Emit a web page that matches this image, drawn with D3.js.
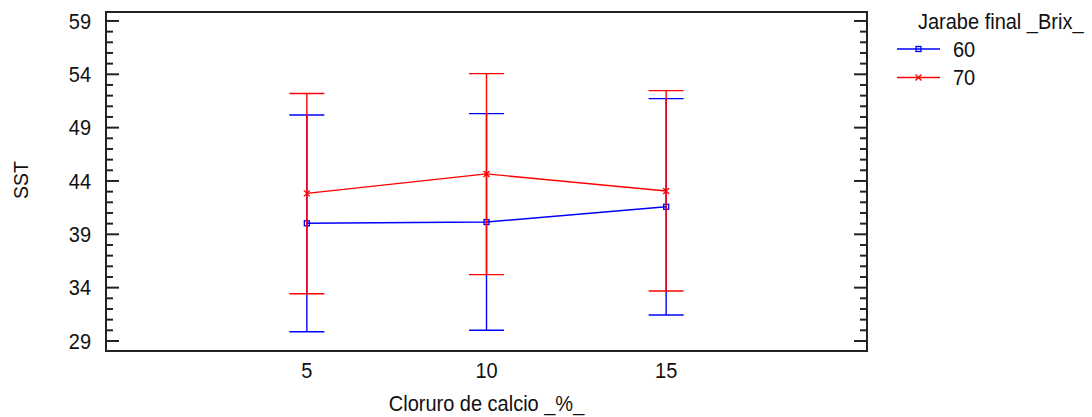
<!DOCTYPE html>
<html>
<head>
<meta charset="utf-8">
<script src="https://cdn.jsdelivr.net/npm/d3@7"></script>
<style>
  html, body { margin: 0; padding: 0; background: #fff; }
  svg { display: block; font-family: "Liberation Sans", Arial, sans-serif; }
</style>
</head>
<body>
<svg id="chart" width="1092" height="417"></svg>
<script>
// Calcium chloride levels (x) and series (final syrup Brix)
const cloruro = [5, 10, 15];
const seriesNames = ["60", "70"];
const seriesColors = ["#0000ff", "#ff0000"];

// SST means with interval limits for each series
const media60 = [40.03, 40.15, 41.58];
const inferior60 = [29.87, 30.00, 31.44];
const superior60 = [50.19, 50.31, 51.72];

const media70 = [42.84, 44.66, 43.06];
const inferior70 = [33.43, 35.22, 33.69];
const superior70 = [52.20, 54.06, 52.47];

const yTicks = [29, 34, 39, 44, 49, 54, 59];
const xTicks = [5, 10, 15];

(function () {
  const series = [
    { name: seriesNames[0], color: seriesColors[0], marker: "square", mean: media60, lo: inferior60, hi: superior60 },
    { name: seriesNames[1], color: seriesColors[1], marker: "cross", mean: media70, lo: inferior70, hi: superior70 }
  ];

  const svg = d3.select("#chart");
  const pLeft = 106, pRight = 867, pTop = 12, pBottom = 351;

  const x = d3.scaleLinear().domain([-0.59, 20.59]).range([pLeft, pRight]);
  const y = d3.scaleLinear().domain([28.06, 59.84]).range([pBottom, pTop]);

  // minor ticks every unit, major ticks every 5
  const minorTicks = d3.range(29, 60, 1).filter(v => !yTicks.includes(v));
  const axisColor = "#222";
  const textColor = "#111";
  const stretch = 1.08; // glyphs are a bit taller than plain Arial

  // text placed at (tx, ty) with optional rotation, slightly stretched in height
  function label(parent, tx, ty, str, opts) {
    const o = Object.assign({ size: 20, anchor: "start", rotate: 0, dy: 0 }, opts || {});
    return parent.append("text")
      .attr("transform", `translate(${tx},${ty}) rotate(${o.rotate}) scale(1,${stretch})`)
      .attr("dy", o.dy)
      .attr("text-anchor", o.anchor)
      .attr("font-size", o.size)
      .attr("fill", textColor)
      .text(str);
  }

  function sideTicks(xEdge, dir) {
    const g = svg.append("g");
    g.selectAll("line.maj").data(yTicks).join("line")
      .attr("class", "maj")
      .attr("x1", xEdge).attr("x2", xEdge + dir * 13)
      .attr("y1", d => y(d)).attr("y2", d => y(d))
      .attr("stroke", axisColor).attr("stroke-width", 2);
    g.selectAll("line.min").data(minorTicks).join("line")
      .attr("class", "min")
      .attr("x1", xEdge).attr("x2", xEdge + dir * 7)
      .attr("y1", d => y(d)).attr("y2", d => y(d))
      .attr("stroke", axisColor).attr("stroke-width", 2);
  }
  sideTicks(pLeft, 1);
  sideTicks(pRight, -1);

  const gy = svg.append("g");
  yTicks.forEach(v => label(gy, 91, y(v), v, { anchor: "end", dy: "0.35em" }));

  // frame
  svg.append("rect")
    .attr("x", pLeft).attr("y", pTop)
    .attr("width", pRight - pLeft).attr("height", pBottom - pTop)
    .attr("fill", "none").attr("stroke", axisColor).attr("stroke-width", 2);

  // x tick labels
  const gx = svg.append("g");
  xTicks.forEach(v => label(gx, x(v), 378, v, { anchor: "middle" }));

  // axis titles
  label(svg, (pLeft + pRight) / 2, 411, "Cloruro de calcio _%_", { anchor: "middle", size: 20 });
  label(svg, 28, 180, "SST", { anchor: "middle", size: 19.5, rotate: -90 });

  function drawMarker(g, type, cx, cy, color) {
    if (type === "square") {
      g.append("rect").attr("x", cx - 2.5).attr("y", cy - 2.5)
        .attr("width", 5).attr("height", 5)
        .attr("fill", "none").attr("stroke", color).attr("stroke-width", 1.3);
    } else {
      g.append("path")
        .attr("d", `M${cx - 3},${cy - 3}L${cx + 3},${cy + 3}M${cx - 3},${cy + 3}L${cx + 3},${cy - 3}`)
        .attr("stroke", color).attr("stroke-width", 1.3);
    }
  }

  const capHalf = 17.5;
  const line = d3.line().x(d => x(d[0])).y(d => y(d[1]));

  series.forEach(s => {
    const g = svg.append("g");
    const pts = cloruro.map((c, i) => ({ c, m: s.mean[i], lo: s.lo[i], hi: s.hi[i] }));
    // interval stems and caps
    g.selectAll("line.stem").data(pts).join("line")
      .attr("class", "stem")
      .attr("x1", d => x(d.c)).attr("x2", d => x(d.c))
      .attr("y1", d => y(d.lo)).attr("y2", d => y(d.hi))
      .attr("stroke", s.color).attr("stroke-width", 1.4);
    g.selectAll("line.caphi").data(pts).join("line")
      .attr("class", "caphi")
      .attr("x1", d => x(d.c) - capHalf).attr("x2", d => x(d.c) + capHalf)
      .attr("y1", d => y(d.hi)).attr("y2", d => y(d.hi))
      .attr("stroke", s.color).attr("stroke-width", 1.4);
    g.selectAll("line.caplo").data(pts).join("line")
      .attr("class", "caplo")
      .attr("x1", d => x(d.c) - capHalf).attr("x2", d => x(d.c) + capHalf)
      .attr("y1", d => y(d.lo)).attr("y2", d => y(d.lo))
      .attr("stroke", s.color).attr("stroke-width", 1.4);
    // mean line
    g.append("path")
      .attr("d", line(pts.map(d => [d.c, d.m])))
      .attr("fill", "none").attr("stroke", s.color).attr("stroke-width", 1.4);
    pts.forEach(d => drawMarker(g, s.marker, x(d.c), y(d.m), s.color));
  });

  // legend
  const lg = svg.append("g");
  label(lg, 918, 29, "Jarabe final _Brix_", { size: 20 });
  series.forEach((s, i) => {
    const ly = 49 + i * 28.5;
    lg.append("line").attr("x1", 897).attr("x2", 940)
      .attr("y1", ly).attr("y2", ly)
      .attr("stroke", s.color).attr("stroke-width", 1.4);
    drawMarker(lg, s.marker, 918.5, ly, s.color);
    label(lg, 953, ly, s.name, { size: 20, dy: "0.36em" });
  });
})();
</script>
</body>
</html>
